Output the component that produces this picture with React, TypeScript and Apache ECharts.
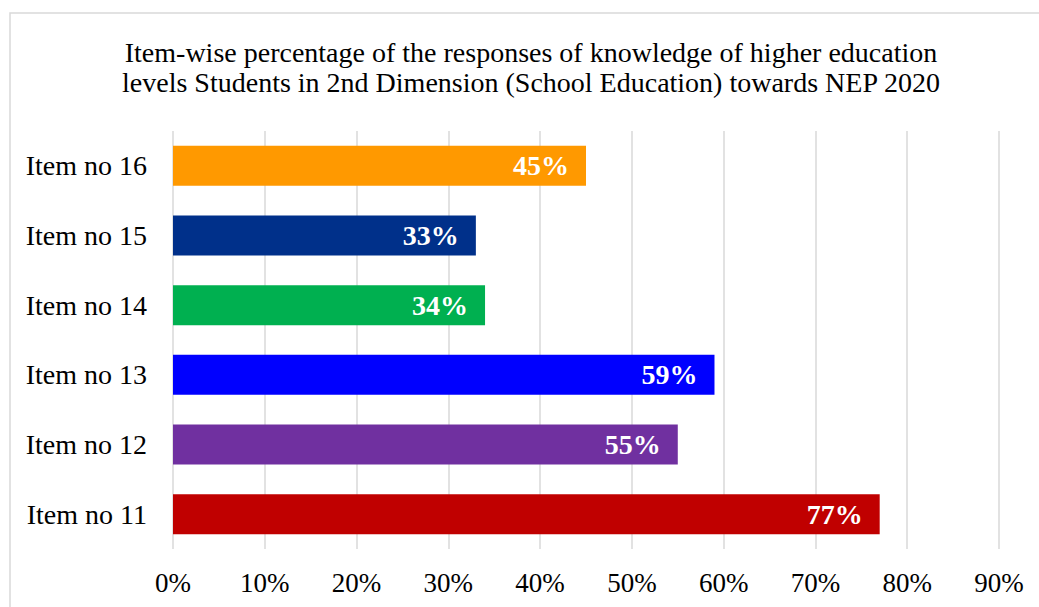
import React, { useEffect, useRef } from "react";
import * as echarts from "echarts";

const categories = ["Item no 11", "Item no 12", "Item no 13", "Item no 14", "Item no 15", "Item no 16"];
const values = [77, 55, 59, 34, 33, 45];
const barColors = ["#C00000", "#7030A0", "#0000FF", "#00B050", "#00308A", "#FF9900"];
const titleLines = [
  "Item-wise percentage of the responses of knowledge of higher education",
  "levels Students in 2nd Dimension (School Education) towards NEP 2020",
];

const FONT = "'Liberation Serif', 'Times New Roman', serif";

export default function App() {
  const ref = useRef<HTMLDivElement>(null);
  useEffect(() => {
    document.body.style.margin = "0";
    const chart = echarts.init(ref.current!, null, { renderer: "svg" });
    chart.setOption({
      animation: false,
      backgroundColor: "#ffffff",
      graphic: [
        {
          type: "rect",
          shape: { x: 10, y: 13, width: 1200, height: 800 },
          style: { fill: "none", stroke: "#d9d9d9", lineWidth: 1.5 },
          silent: true,
        },
        ...titleLines.map((t, i) => ({
          type: "text",
          x: 531,
          y: 52 + i * 30,
          style: {
            text: t,
            fontFamily: FONT,
            fontSize: 28,
            fill: "#000000",
            textAlign: "center",
            textVerticalAlign: "middle",
          },
        })),
      ],
      grid: { left: 173, right: 40, top: 131, bottom: 58 },
      xAxis: {
        type: "value",
        min: 0,
        max: 90,
        interval: 10,
        axisLine: { show: false },
        axisTick: { show: false },
        axisLabel: {
          formatter: "{value}%",
          fontFamily: FONT,
          fontSize: 27,
          color: "#000000",
          margin: 20,
        },
        splitLine: { show: true, lineStyle: { color: "#d9d9d9", width: 1.5 } },
      },
      yAxis: {
        type: "category",
        data: categories,
        axisLine: { show: false },
        axisTick: { show: false },
        axisLabel: {
          fontFamily: FONT,
          fontSize: 28,
          color: "#000000",
          margin: 26,
        },
      },
      series: [
        {
          type: "bar",
          barWidth: 40,
          data: values.map((v, i) => ({ value: v, itemStyle: { color: barColors[i] } })),
          label: {
            show: true,
            position: "insideRight",
            distance: 17,
            formatter: "{c}%",
            fontFamily: FONT,
            fontSize: 28,
            fontWeight: "bold",
            color: "#ffffff",
          },
        },
      ],
    });
    return () => chart.dispose();
  }, []);
  return <div ref={ref} style={{ width: 1039, height: 607 }} />;
}
